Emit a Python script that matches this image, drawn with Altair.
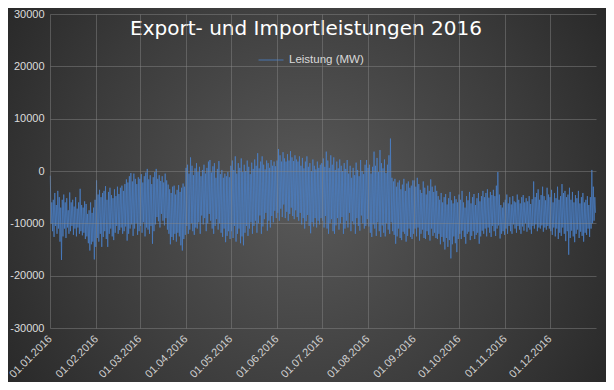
import altair as alt
import pandas as pd

# ---- data (thousand MW): daily high and daily low ----
month_starts = ["2016-01-01", "2016-02-01", "2016-03-01", "2016-04-01", "2016-05-01", "2016-06-01",
                "2016-07-01", "2016-08-01", "2016-09-01", "2016-10-01", "2016-11-01", "2016-12-01"]
y_ticks = [-30000, -20000, -10000, 0, 10000, 20000, 30000]
series_name = "Leistung (MW)"

jan_high = [-0.9, -6.0, -5.5, -4.2, -6.5, -3.8, -5.0, -7.0, -5.5, -4.5, -6.0, -5.2, -7.5, -4.1, -6.0, -5.5,
            -6.8, -5.0, -7.2, -6.0, -3.4, -6.5, -7.0, -5.8, -6.3, -8.2, -7.5, -6.0, -8.0, -7.0, -5.5]
jan_low = [-10.1, -11.5, -12.6, -10.5, -12.0, -11.0, -13.5, -17.0, -12.5, -11.0, -12.8, -10.8, -12.0, -11.5,
           -10.5, -12.2, -11.0, -12.5, -10.8, -12.0, -11.5, -12.3, -11.8, -13.0, -12.5, -13.8, -15.2, -14.0,
           -13.5, -16.9, -14.5]
feb_high = [-1.8, -4.5, -3.6, -5.0, -4.2, -3.8, -2.9, -5.5, -4.0, -3.2, -4.6, -5.2, -3.5, -4.8, -3.0, -4.4,
            -3.2, -2.8, -3.8, -2.5, -1.6, -2.2, -1.0, -0.4, -2.0, -0.5, -1.5, -2.5, -1.2]
feb_low = [-12.8, -13.5, -12.0, -14.5, -12.6, -11.5, -13.0, -14.5, -12.0, -11.0, -12.5, -13.2, -11.8, -10.5,
           -12.0, -11.3, -10.8, -12.0, -11.5, -10.6, -13.3, -12.0, -11.0, -10.2, -12.4, -11.0, -10.0, -12.2,
           -11.5]
mar_high = [-1.5, -0.6, -2.2, -1.0, -0.3, 0.4, -1.6, -0.8, -2.5, -1.2, -0.2, 0.4, -1.5, -0.8, -1.9, -1.0,
            -2.2, -0.5, -1.8, -2.6, -3.5, -4.2, -3.0, -2.8, -4.5, -3.6, -2.7, -4.0, -3.2, -2.4, -3.0]
mar_low = [-10.5, -11.8, -9.8, -12.5, -10.8, -11.2, -12.0, -10.5, -13.9, -11.5, -10.2, -8.8, -9.6, -10.8,
           -8.2, -9.5, -10.4, -9.0, -11.2, -12.0, -14.0, -12.6, -13.2, -12.0, -13.5, -11.8, -12.5, -14.2,
           -15.2, -13.0, -12.2]
apr_high = [0.6, 1.2, -0.5, 2.6, 1.0, -0.8, 0.5, 1.5, -0.2, 0.8, -1.0, 0.2, 1.2, -0.5, 0.6, 1.8, 2.1, -0.3,
            0.9, 1.5, -1.3, 0.4, 1.9, -0.6, 0.2, -1.3, -0.5, -1.0, -0.2, -1.2]
apr_low = [-10.5, -12.0, -11.2, -10.0, -11.5, -12.2, -10.8, -11.0, -9.8, -12.0, -8.5, -10.2, -9.0, -11.5,
           -10.0, -8.2, -9.5, -11.0, -12.0, -10.5, -9.2, -11.2, -10.0, -11.8, -12.6, -11.0, -13.6, -12.4,
           -11.5, -13.0]
may_high = [1.0, 2.0, 0.2, 2.8, -0.5, 1.5, 0.6, 2.4, -0.2, 1.2, 0.0, 2.0, 0.8, -0.6, 1.6, 0.4, 2.2, 1.0, 3.4,
            0.5, 1.8, 2.8, 1.2, 0.3, 2.0, 1.5, 0.6, 2.1, 1.0, 1.8, 0.9]
may_low = [-11.5, -12.8, -10.5, -13.5, -12.0, -11.0, -13.8, -12.5, -14.2, -11.8, -10.5, -12.4, -11.0, -9.8,
           -12.0, -10.5, -9.5, -11.8, -10.0, -8.5, -12.0, -10.6, -9.2, -8.0, -11.4, -9.5, -10.8, -8.6, -9.8,
           -7.6, -9.0]
jun_high = [2.0, 4.2, 3.0, 1.8, 3.6, 2.4, 1.8, 3.2, 2.0, 3.8, 2.6, 1.9, 3.0, 2.2, 1.8, 2.8, 1.0, 2.5, 0.5,
            1.8, 2.8, 0.8, 1.5, 0.0, 2.2, 1.0, 0.3, 1.8, 0.6, 1.2]
jun_low = [-8.0, -9.5, -7.2, -8.8, -6.4, -9.0, -7.8, -9.5, -8.2, -7.0, -8.6, -9.2, -7.5, -8.8, -9.5, -8.0,
           -10.2, -9.0, -11.0, -9.6, -8.4, -10.5, -11.9, -9.8, -10.6, -9.0, -10.8, -9.5, -10.2, -9.0]
jul_high = [1.5, 2.4, 0.8, 3.7, 2.0, 0.6, 3.0, 1.2, 2.6, 0.2, 1.8, 0.5, 2.2, 1.0, 0.0, 1.5, 0.4, 2.1, -0.5,
            1.0, -1.3, 0.6, -0.8, 1.6, 0.2, -1.0, 2.1, 0.0, -0.6, 1.2, 2.1]
jul_low = [-9.5, -10.8, -8.6, -11.0, -12.0, -10.0, -9.2, -11.5, -12.0, -10.4, -9.0, -11.2, -10.0, -8.8,
           -12.0, -11.0, -9.5, -10.8, -8.0, -11.5, -9.6, -10.2, -12.0, -9.0, -10.5, -11.4, -8.5, -10.0, -11.0,
           -10.5, -9.2]
aug_high = [0.6, 1.2, -0.5, 0.8, 3.7, 1.0, 2.5, -0.2, 4.0, 1.5, 0.5, 2.2, -0.4, 1.2, 3.0, 6.2, -1.3, -2.0,
            -1.5, -3.0, -2.2, -1.8, -3.5, -2.6, -1.5, -3.8, -2.4, -2.0, -3.2, -2.8, -1.8]
aug_low = [-10.6, -11.8, -12.6, -10.2, -11.0, -12.4, -9.8, -11.5, -12.6, -10.4, -11.8, -12.5, -10.0, -11.2,
           -12.0, -9.8, -11.5, -12.2, -13.9, -12.5, -11.0, -12.8, -13.2, -11.6, -12.0, -13.5, -12.4, -11.0,
           -12.6, -13.0, -12.0]
sep_high = [-1.8, -3.0, -1.3, -2.5, -3.6, -4.2, -2.0, -3.2, -4.5, -2.8, -3.8, -1.6, -3.0, -4.0, -2.8, -3.8,
            -4.8, -5.5, -4.2, -6.0, -5.0, -4.4, -6.4, -5.2, -4.0, -5.6, -6.2, -4.8, -5.4, -6.0]
sep_low = [-11.0, -12.5, -10.8, -13.3, -12.0, -11.2, -12.8, -13.0, -11.5, -12.2, -13.3, -11.0, -12.4, -11.8,
           -12.8, -13.0, -12.0, -14.0, -12.6, -13.5, -15.0, -12.8, -14.5, -13.2, -16.7, -14.0, -12.5, -13.8,
           -15.5, -13.0]
oct_high = [-4.5, -5.5, -3.8, -6.0, -7.0, -4.8, -5.6, -4.0, -6.2, -5.0, -4.4, -6.5, -5.2, -4.2, -5.8, -4.8,
            -3.8, -5.0, -4.2, -3.5, -5.1, -4.0, -4.6, -3.6, -4.8, -2.8, -0.2, -4.5, -6.5, -7.0, -6.0]
oct_low = [-12.0, -13.0, -11.4, -12.6, -13.9, -12.0, -11.6, -13.2, -12.4, -11.5, -13.0, -12.2, -11.8, -13.9,
           -12.5, -11.4, -12.0, -11.0, -12.5, -10.8, -11.8, -12.6, -10.5, -11.5, -12.4, -11.0, -10.4, -12.9,
           -12.0, -11.5, -12.2]
nov_high = [-5.5, -4.5, -6.2, -5.0, -6.4, -4.8, -5.8, -6.0, -4.5, -5.5, -6.2, -5.0, -4.6, -6.0, -5.2, -5.8,
            -4.8, -6.3, -5.4, -2.0, -5.0, -4.2, -3.5, -5.5, -4.6, -3.0, -4.8, -5.6, -3.2, -4.5]
nov_low = [-11.0, -12.0, -10.5, -11.5, -12.0, -10.2, -11.0, -11.8, -10.5, -11.2, -12.0, -10.6, -11.4, -10.0,
           -11.6, -10.8, -11.2, -12.0, -10.5, -11.0, -10.2, -11.5, -10.8, -11.0, -10.4, -11.6, -10.8, -11.2,
           -10.5, -11.0]
dec_high = [-5.0, -3.6, -6.0, -4.2, -5.2, -3.0, -5.5, -4.8, -2.5, -4.2, -3.8, -5.0, -4.5, -3.2, -5.5, -4.0,
            -6.0, -4.6, -5.2, -3.8, -6.2, -5.0, -4.2, -6.0, -5.5, -4.8, -6.5, -5.0, 0.2, -3.0, -5.0]
dec_low = [-11.5, -12.2, -10.8, -12.5, -11.0, -13.0, -11.8, -12.4, -10.8, -12.0, -13.4, -11.5, -16.0, -12.8,
           -11.4, -12.5, -13.6, -12.0, -11.2, -12.8, -11.6, -12.4, -13.5, -11.8, -12.2, -11.0, -12.6, -11.0,
           -10.0, -9.5, -8.0]

highs = [jan_high, feb_high, mar_high, apr_high, may_high, jun_high,
         jul_high, aug_high, sep_high, oct_high, nov_high, dec_high]
lows = [jan_low, feb_low, mar_low, apr_low, may_low, jun_low,
        jul_low, aug_low, sep_low, oct_low, nov_low, dec_low]

rows = []
for m_start, hi_list, lo_list in zip(month_starts, highs, lows):
    start = pd.Timestamp(m_start)
    for i, (hi, lo) in enumerate(zip(hi_list, lo_list)):
        day = start + pd.Timedelta(days=i)
        rows.append({"t": (day + pd.Timedelta(hours=5)).strftime("%Y-%m-%dT%H:%M:%S"),
                     "v": hi * 1000, "s": series_name})
        rows.append({"t": (day + pd.Timedelta(hours=17)).strftime("%Y-%m-%dT%H:%M:%S"),
                     "v": lo * 1000, "s": series_name})
df = pd.DataFrame(rows)

W, H = 546, 314
PAD_L, PAD_R, PAD_T, PAD_B = 42, 10, 6, 54

month_dt = [alt.DateTime(year=int(s[:4]), month=int(s[5:7]), date=1) for s in month_starts]

gradient = alt.RadialGradient(
    gradient="radial",
    stops=[alt.GradientStop(color="#595959", offset=0),
           alt.GradientStop(color="#3a3a3a", offset=0.55),
           alt.GradientStop(color="#1e1e1e", offset=1)],
    x1=0.5, y1=0.5, r1=0, x2=0.5, y2=0.5, r2=0.72,
)

bg = alt.Chart(pd.DataFrame({"a": [0]})).mark_rect(fill=gradient, strokeWidth=0).encode(
    x=alt.value(-PAD_L), x2=alt.value(W + PAD_R),
    y=alt.value(-PAD_T), y2=alt.value(H + PAD_B),
)

line = alt.Chart(df).mark_line(strokeWidth=0.9, opacity=0.8).encode(
    x=alt.X("t:T",
            scale=alt.Scale(domain=[alt.DateTime(year=2016, month=1, date=1),
                                    alt.DateTime(year=2017, month=1, date=1)]),
            axis=alt.Axis(values=month_dt, format="%d.%m.%Y", labelAngle=-45,
                          labelAlign="right", labelBaseline="middle", title=None,
                          grid=True, ticks=False, domain=False, labelPadding=9,
                          labelOverlap=False, labelFlush=False, zindex=1,
                          labelFont="Liberation Sans", labelFontSize=11,
                          labelColor="#d0d0d0", gridColor="#8a8a8a", gridOpacity=0.45)),
    y=alt.Y("v:Q",
            scale=alt.Scale(domain=[-30000, 30000], nice=False),
            axis=alt.Axis(values=y_ticks, format="d",
                          labelExpr="replace(datum.label, '\u2212', '-')",
                          title=None, grid=True, ticks=False, domain=False, labelPadding=6,
                          zindex=1, labelFont="Liberation Sans", labelFontSize=11,
                          labelColor="#dcdcdc", gridColor="#8a8a8a", gridOpacity=0.45)),
    color=alt.Color("s:N", scale=alt.Scale(range=["#4a80c8"]),
                    legend=alt.Legend(title=None, orient="none", legendX=208, legendY=33,
                                      symbolType="stroke", symbolSize=625, symbolStrokeWidth=1,
                                      labelFont="Liberation Sans", labelFontSize=11.5,
                                      labelColor="#d9d9d9", labelOffset=5)),
)

chart = alt.layer(bg, line).properties(
    width=W, height=H,
    autosize=alt.AutoSizeParams(type="none"),
    padding={"left": PAD_L, "right": PAD_R, "top": PAD_T, "bottom": PAD_B},
    title=alt.TitleParams("Export- und Importleistungen 2016", font="DejaVu Sans", fontSize=20,
                          fontWeight="normal", color="#ffffff", anchor="middle", frame="group",
                          offset=-31, dx=-17),
).configure(background="#262626").configure_view(stroke=None)

chart.save("out.html", embed_options={"renderer": "svg", "actions": False})
